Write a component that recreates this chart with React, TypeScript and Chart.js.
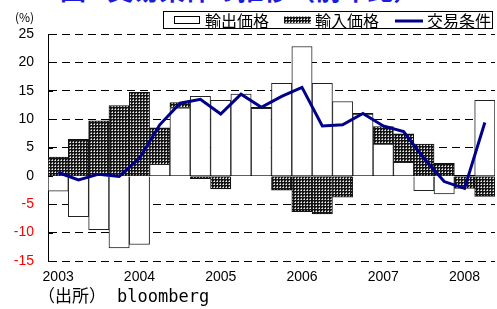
import React, { useEffect, useRef } from "react";
import { Chart, registerables } from "chart.js";

Chart.register(...registerables);

const categories = [
  "2003Q1", "2003Q2", "2003Q3", "2003Q4",
  "2004Q1", "2004Q2", "2004Q3", "2004Q4",
  "2005Q1", "2005Q2", "2005Q3", "2005Q4",
  "2006Q1", "2006Q2", "2006Q3", "2006Q4",
  "2007Q1", "2007Q2", "2007Q3", "2007Q4",
  "2008Q1", "2008Q2",
];

const exportPrice = [-2.7, -7.2, -9.5, -12.7, -12.1, 2.05, 12.0, 14.0, 13.3, 14.4, 11.9, 16.3, 22.8, 16.3, 13.1, 10.9, 5.6, 2.4, -2.6, -3.2, 0, 13.3];
const importPrice = [3.3, 6.45, 9.7, 12.4, 14.7, 6.4, 0.9, -0.5, -2.3, 0, 0.2, -2.5, -6.3, -6.7, -3.75, 0.1, 3.1, 5.0, 5.6, 2.2, -2.2, -3.6];
const termsOfTrade = [0.6, -0.7, 0.3, -0.1, 3.1, 9.0, 12.8, 13.5, 10.9, 14.4, 12.1, 14.0, 15.6, 8.8, 9.0, 11.0, 8.8, 7.8, 3.1, -1.0, -2.2, 9.4];

const seriesNames = ["輸出価格", "輸入価格", "交易条件"];
const yTicks = { min: -15, max: 25, step: 5 };

function makePattern(): CanvasPattern | string {
  const c = document.createElement("canvas");
  c.width = 3;
  c.height = 3;
  const g = c.getContext("2d");
  if (!g) return "#222";
  g.fillStyle = "#151515";
  g.fillRect(0, 0, 3, 3);
  g.fillStyle = "#9a9a9a";
  g.fillRect(1, 0, 1, 1);
  g.fillRect(0, 1, 1, 1);
  g.fillStyle = "#f0f0f0";
  g.fillRect(1, 1, 1, 1);
  const p = g.createPattern(c, "repeat");
  return p || "#222";
}

export default function App() {
  const ref = useRef<HTMLCanvasElement | null>(null);

  useEffect(() => {
    if (!ref.current) return;
    const pattern = makePattern();

    const extras = {
      id: "extras",
      afterDraw(chart: any) {
        const ctx = chart.ctx as CanvasRenderingContext2D;
        const y = chart.scales.y;
        const area = chart.chartArea;
        ctx.save();
        ctx.strokeStyle = "#000";
        ctx.lineWidth = 1;
        for (let v = yTicks.min; v <= yTicks.max; v += yTicks.step) {
          const py = Math.round(y.getPixelForValue(v)) + 0.5;
          ctx.beginPath();
          ctx.moveTo(area.left, py);
          ctx.lineTo(area.left + 5, py);
          ctx.stroke();
        }
        const bx = 163.5, by = 11.5, bw = 329, bh = 17;
        ctx.fillStyle = "#fff";
        ctx.fillRect(bx, by, bw, bh);
        ctx.strokeStyle = "#000";
        ctx.strokeRect(bx, by, bw, bh);
        const cy = by + bh / 2;
        ctx.font = '16px "Noto Sans CJK JP"';
        ctx.textBaseline = "middle";
        ctx.textAlign = "left";
        ctx.fillStyle = "#fff";
        ctx.fillRect(174.5, cy - 3.5, 25, 7);
        ctx.strokeRect(174.5, cy - 3.5, 25, 7);
        ctx.fillStyle = "#000";
        ctx.fillText(seriesNames[0], 205, cy + 1);
        ctx.fillStyle = pattern as any;
        ctx.fillRect(284, cy - 3.5, 27, 7);
        ctx.fillStyle = "#000";
        ctx.fillText(seriesNames[1], 315, cy + 1);
        ctx.strokeStyle = "#00008b";
        ctx.lineWidth = 3;
        ctx.beginPath();
        ctx.moveTo(395, cy + 1);
        ctx.lineTo(423, cy + 1);
        ctx.stroke();
        ctx.fillStyle = "#000";
        ctx.fillText(seriesNames[2], 427, cy + 1);
        ctx.restore();
      },
    };

    const chart = new Chart(ref.current, {
      type: "bar",
      data: {
        labels: categories,
        datasets: [
          {
            type: "bar",
            label: seriesNames[0],
            data: exportPrice,
            backgroundColor: "#fff",
            borderColor: "#222",
            borderWidth: 1,
            stack: "bars",
            order: 1,
            categoryPercentage: 1,
            barPercentage: 1,
          },
          {
            type: "bar",
            label: seriesNames[1],
            data: importPrice,
            backgroundColor: pattern as any,
            borderColor: "#111",
            borderWidth: 1,
            stack: "bars",
            order: 2,
            categoryPercentage: 1,
            barPercentage: 1,
          },
          {
            type: "line",
            label: seriesNames[2],
            data: termsOfTrade,
            borderColor: "#00008b",
            borderWidth: 3,
            pointRadius: 0,
            tension: 0,
            stack: "line",
            order: 0,
          } as any,
        ],
      },
      options: {
        animation: false,
        responsive: false,
        layout: { padding: { top: 34, right: 2, left: 0, bottom: 0 } },
        plugins: {
          legend: { display: false },
          tooltip: { enabled: false },
        },
        scales: {
          x: {
            stacked: true,
            grid: { display: false, drawTicks: false },
            border: { display: false },
            ticks: {
              autoSkip: false,
              maxRotation: 0,
              padding: 8,
              color: "#000",
              font: { family: '"Liberation Sans", Arial', size: 14 },
              callback: (_v: any, i: number) => (i % 4 === 0 ? categories[i].slice(0, 4) : ""),
            },
            afterFit: (s: any) => {
              s.height = 48;
            },
          },
          y: {
            stacked: true,
            min: yTicks.min,
            max: yTicks.max,
            grid: {
              drawTicks: false,
              color: "#000",
              lineWidth: 1,
            },
            border: {
              display: true,
              color: "#000",
              width: 1,
              dash: (ctx: any) => (ctx.tick && ctx.tick.value === 0 ? [] : [8, 5]),
            } as any,
            ticks: {
              stepSize: yTicks.step,
              padding: 14,
              color: (ctx: any) => (ctx.tick && ctx.tick.value < 0 ? "#ff0000" : "#000"),
              font: { family: '"Liberation Sans", Arial', size: 14 },
            },
            afterFit: (s: any) => {
              s.width = 48;
            },
          },
        },
      },
      plugins: [extras],
    });
    return () => chart.destroy();
  }, []);

  return (
    <div
      style={{
        position: "fixed",
        left: 0,
        top: 0,
        width: 497,
        height: 309,
        overflow: "hidden",
        background: "#fff",
      }}
    >
      <div
        style={{
          position: "absolute",
          left: 60,
          top: -24,
          font: 'bold 26px "Noto Sans CJK JP"',
          lineHeight: "26px",
          color: "#1c1cd8",
          whiteSpace: "nowrap",
        }}
      >
        図1 交易条件の推移（前年比）
      </div>
      <canvas ref={ref} width={497} height={309} style={{ position: "absolute", left: 0, top: 0 }} />
      <div
        style={{
          position: "absolute",
          left: 15,
          top: 8,
          font: '12px "Noto Sans CJK JP"',
          color: "#000",
        }}
      >
        (%)
      </div>
      <div
        style={{
          position: "absolute",
          left: 38,
          top: 285,
          fontSize: 17,
          lineHeight: "20px",
          color: "#000",
          whiteSpace: "nowrap",
        }}
      >
        <span style={{ fontFamily: '"Noto Sans CJK JP"' }}>（出所）</span>
        <span style={{ fontFamily: '"DejaVu Sans Mono"', marginLeft: 11 }}>bloomberg</span>
      </div>
    </div>
  );
}
